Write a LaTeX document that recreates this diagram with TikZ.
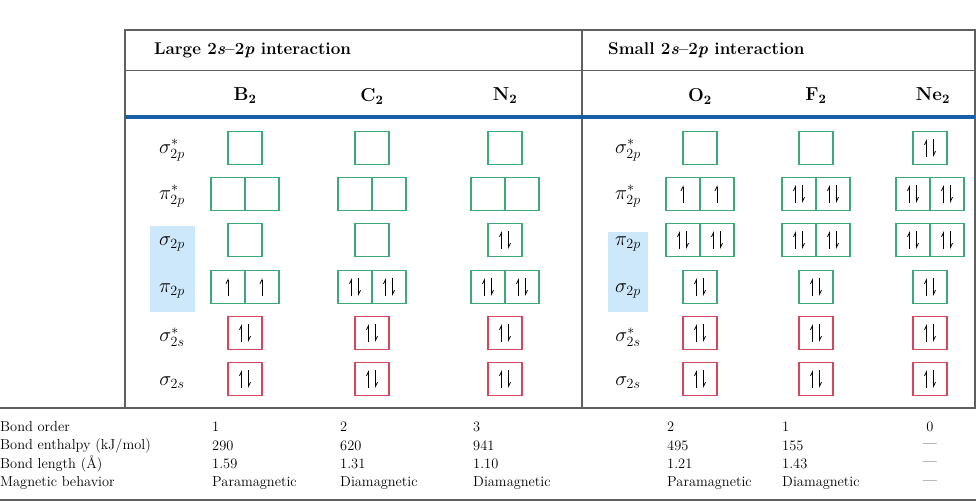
\documentclass[tikz,border=0pt]{standalone}
\usepackage{amsmath}
\usetikzlibrary{arrows.meta,positioning}

\definecolor{mogreen}{RGB}{60,170,120}
\definecolor{mored}{RGB}{215,70,95}
\definecolor{rulegray}{RGB}{95,95,95}
\definecolor{headblue}{RGB}{25,95,165}
\definecolor{hlblue}{RGB}{205,232,250}

\tikzset{
	mo/.style={draw=#1, line width=0.9pt, minimum width=1.02cm, minimum height=1.0cm, inner sep=0pt},
	el/.style={line width=0.7pt, -{Straight Barb[left,length=3.5pt,width=3.5pt]}},
	up/.pic={\draw [el] (0,9) -- (0,-9);},
	pair/.pic={\draw [el] (-3.5,9) -- (-3.5,-9); \draw [el] (3.5,-9) -- (3.5,9);},
	rowlab/.style={font=\fontsize{18}{20}\selectfont},
	mol/.style={font=\fontsize{16}{18}\selectfont\bfseries},
	head/.style={font=\fontsize{14.5}{17}\selectfont\bfseries, anchor=west},
	val/.style={font=\fontsize{12.3}{14}\selectfont, anchor=west, inner sep=0pt}
}

% single box: name, x, y, colour, electrons (0/1/2)
\newcommand\mosingle[5]{%
	\node [mo=#4] (#1) at (#2,#3) {};
	\ifcase#5\or\pic at (#1) {up};\or\pic at (#1) {pair};\fi}
% double box: name, x, y, colour, left, right
\newcommand\modouble[6]{%
	\mosingle{#1a}{#2-17}{#3}{#4}{#5}\mosingle{#1b}{#2+17}{#3}{#4}{#6}}

\begin{document}
\begin{tikzpicture}[x=0.03cm, y=-0.03cm]
			\useasboundingbox (0,0) rectangle (976,501);
			% highlights
			\fill [hlblue] (150,226) rectangle (195,312);
			\fill [hlblue] (608,232) rectangle (648,312);
			% frame
			\draw [rulegray, line width=1pt] (125,408) -- (125,30) -- (975,30) -- (975,408);
			\draw [rulegray, line width=1pt] (582,30) -- (582,408);
			\draw [rulegray, line width=0.8pt] (125,70) -- (975,70);
			\draw [headblue, line width=2.6pt] (125,117) -- (975,117);
			\draw [rulegray, line width=1pt] (0,408) -- (976,408);
			\draw [rulegray, line width=1pt] (0,500) -- (976,500);
			% headers
			\node [head] (hl) at (150,50) {Large 2\textit{s}--2\textit{p} interaction};
			\node [head] (hs) at (604,50) {Small 2\textit{s}--2\textit{p} interaction};
			\node [mol] (mB) at (245,96) {B$_{\boldsymbol 2}$};
			\node [mol] (mC) at (372,96) {C$_{\boldsymbol 2}$};
			\node [mol] (mN) at (505,96) {N$_{\boldsymbol 2}$};
			\node [mol] (mO) at (700,96) {O$_{\boldsymbol 2}$};
			\node [mol] (mF) at (816,96) {F$_{\boldsymbol 2}$};
			\node [mol] (mNe) at (933,96) {Ne$_{\boldsymbol 2}$};
			% row labels
			\node [rowlab] (l1) at (172,150) {$\sigma^*_{2p}$};
			\node [rowlab] (l2) at (172,196) {$\pi^*_{2p}$};
			\node [rowlab] (l3) at (172,244) {$\sigma_{2p}$};
			\node [rowlab] (l4) at (172,291) {$\pi_{2p}$};
			\node [rowlab] (l5) at (172,337) {$\sigma^*_{2s}$};
			\node [rowlab] (l6) at (172,383) {$\sigma_{2s}$};
			\node [rowlab] (r1) at (628,150) {$\sigma^*_{2p}$};
			\node [rowlab] (r2) at (628,196) {$\pi^*_{2p}$};
			\node [rowlab] (r3) at (628,244) {$\pi_{2p}$};
			\node [rowlab] (r4) at (628,291) {$\sigma_{2p}$};
			\node [rowlab] (r5) at (628,337) {$\sigma^*_{2s}$};
			\node [rowlab] (r6) at (628,383) {$\sigma_{2s}$};
			% B2, C2, N2
			\foreach \n/\x/\c/\d in {B/245/1/0, C/372/2/0, N/505/2/2} {
				\mosingle{\n1}{\x}{148}{mogreen}{0}
				\modouble{\n2}{\x}{194}{mogreen}{0}{0}
				\mosingle{\n3}{\x}{240}{mogreen}{\d}
				\modouble{\n4}{\x}{287}{mogreen}{\c}{\c}
				\mosingle{\n5}{\x}{333}{mored}{2}
				\mosingle{\n6}{\x}{379}{mored}{2}
			}
			% O2, F2, Ne2
			\foreach \n/\x/\a/\b in {O/700/0/1, F/816/0/2, Ne/930/2/2} {
				\mosingle{\n1}{\x}{148}{mogreen}{\a}
				\modouble{\n2}{\x}{194}{mogreen}{\b}{\b}
				\modouble{\n3}{\x}{240}{mogreen}{2}{2}
				\mosingle{\n4}{\x}{287}{mogreen}{2}
				\mosingle{\n5}{\x}{333}{mored}{2}
				\mosingle{\n6}{\x}{379}{mored}{2}
			}
			% properties
			\node [val] (p1) at (0,427) {Bond order};
			\node [val] (p2) at (0,446) {Bond enthalpy (kJ/mol)};
			\node [val] (p3) at (0,464) {Bond length (\AA)};
			\node [val] (p4) at (0,483) {Magnetic behavior};
			\foreach \n/\x/\o/\h/\d/\m in {B/212/1/290/1.59/Paramagnetic, C/340/2/620/1.31/Diamagnetic,
				N/473/3/941/1.10/Diamagnetic, O/667/2/495/1.21/Paramagnetic, F/782/1/155/1.43/Diamagnetic} {
				\node [val] (\n o) at (\x,427) {\o};
				\node [val] (\n h) at (\x,446) {\h};
				\node [val] (\n d) at (\x,464) {\d};
				\node [val] (\n m) at (\x,483) {\m};
			}
			\node [val, anchor=center] (Neo) at (930,427) {0};
			\node [val, anchor=center] (Neh) at (930,446) {---};
			\node [val, anchor=center] (Ned) at (930,464) {---};
			\node [val, anchor=center] (Nem) at (930,483) {---};
\end{tikzpicture}
\end{document}
